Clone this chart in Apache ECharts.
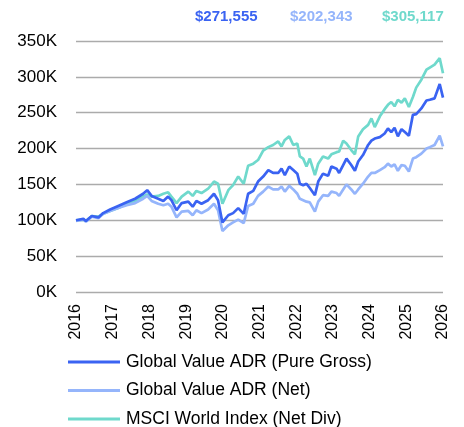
<!DOCTYPE html>
<html>
<head>
<meta charset="utf-8">
<script src="https://cdn.jsdelivr.net/npm/echarts@6/dist/echarts.min.js"></script>
<style>html,body{margin:0;padding:0;background:#fff}#c{width:464px;height:427px}</style>
</head>
<body>
<div id="c"></div>
<script>
// Dates as decimal years
const dates = [2016.00,2016.20,2016.27,2016.43,2016.61,2016.74,2016.93,2017.15,2017.38,2017.61,2017.83,2017.94,2018.06,2018.24,2018.38,2018.51,2018.60,2018.74,2018.88,2019.06,2019.18,2019.28,2019.42,2019.60,2019.76,2019.87,2019.99,2020.15,2020.28,2020.42,2020.57,2020.69,2020.83,2020.96,2021.10,2021.24,2021.37,2021.51,2021.60,2021.69,2021.81,2021.92,2022.03,2022.10,2022.19,2022.28,2022.37,2022.51,2022.60,2022.73,2022.87,2022.96,2023.10,2023.17,2023.28,2023.37,2023.50,2023.60,2023.69,2023.82,2023.96,2024.05,2024.14,2024.28,2024.41,2024.50,2024.59,2024.68,2024.77,2024.87,2024.96,2025.07,2025.18,2025.27,2025.41,2025.55,2025.64,2025.77,2025.91,2026.00];
// Values in thousands of dollars
const pureGross = [100,102,99,106,104,110,115,120,125,130,137,142,134,130,127,133,128,114,124,126,119,127,123,128,137,128,97,107,110,117,109,137,141,154,161,170,166,166,172,163,175,170,165,151,149,151,145,135,154,165,162,175,172,166,177,186,177,169,182,191,205,211,214,216,221,228,223,229,217,227,223,218,247,248,256,267,268,270,290,271];
const net = [99,101,98,105,103,109,113,117,121,124,130,134,127,123,121,123,119,104,112,113,107,114,110,115,123,114,85,93,97,101,96,120,123,134,140,147,143,143,147,140,148,143,137,130,128,126,125,112,126,135,134,140,138,134,143,150,143,137,143,151,161,166,166,170,174,179,175,178,169,177,176,168,186,188,193,200,202,205,218,203];
const msci = [100,101,99,106,105,109,113,117,123,127,133,136,133,134,137,139,133,124,133,140,134,141,138,144,154,151,123,142,149,161,151,176,179,184,197,202,205,210,203,212,217,205,207,189,186,175,186,163,179,189,186,192,195,196,211,207,198,192,217,227,233,242,230,245,255,261,265,259,268,264,270,258,272,285,296,310,313,317,326,305];
const seriesNames = ['Global Value ADR (Pure Gross)','Global Value ADR (Net)','MSCI World Index (Net Div)'];
const finalValues = [271555, 202343, 305117];
const yTicks = [0,50,100,150,200,250,300,350];
const xTicks = [2016,2017,2018,2019,2020,2021,2022,2023,2024,2025,2026];

const colors = ['#3a63f2','#95b5fb','#6fd9cc'];
const labelX = [226, 321, 413];

const chart = echarts.init(document.getElementById('c'));
const mk = (arr) => dates.map((d,i)=>[d,arr[i]]);
const fmt = v => '$' + v.toLocaleString('en-US');

chart.setOption({
  animation:false,
  textStyle:{fontFamily:'Liberation Sans, Arial, sans-serif'},
  grid:{left:76,right:21,top:41,bottom:135,containLabel:false},
  xAxis:{type:'value',min:xTicks[0],max:xTicks[xTicks.length-1],interval:1,
    axisLine:{show:false},axisTick:{show:false},splitLine:{show:false},
    axisLabel:{rotate:90,fontSize:16,color:'#000',margin:12,formatter:v=>String(v)}},
  yAxis:{type:'value',min:yTicks[0],max:yTicks[yTicks.length-1],interval:50,
    axisLine:{show:false},axisTick:{show:false},
    splitLine:{lineStyle:{color:'#ababab',width:1.3}},
    axisLabel:{fontSize:17,color:'#000',margin:19,formatter:v=>v+'K'}},
  legend:{orient:'vertical',left:68,top:353,height:80,padding:0,itemWidth:52,itemHeight:16,itemGap:10.5,
    icon:'path://M0,6.5 L52,6.5 L52,9.5 L0,9.5 Z',
    textStyle:{fontSize:17.5,color:'#000',padding:[0,0,0,1]},
    data:seriesNames},
  series:[
    {name:seriesNames[2],type:'line',data:mk(msci),symbol:'none',lineStyle:{color:colors[2],width:2.7},itemStyle:{color:colors[2]},z:2},
    {name:seriesNames[1],type:'line',data:mk(net),symbol:'none',lineStyle:{color:colors[1],width:2.7},itemStyle:{color:colors[1]},z:3},
    {name:seriesNames[0],type:'line',data:mk(pureGross),symbol:'none',lineStyle:{color:colors[0],width:2.7},itemStyle:{color:colors[0]},z:4}
  ],
  graphic: finalValues.map((v,i)=>({type:'text',left:labelX[i]-31,top:9,
    style:{text:fmt(v),fill:colors[i],font:'bold 15px "Liberation Sans", Arial, sans-serif'}}))
});
</script>
</body>
</html>
